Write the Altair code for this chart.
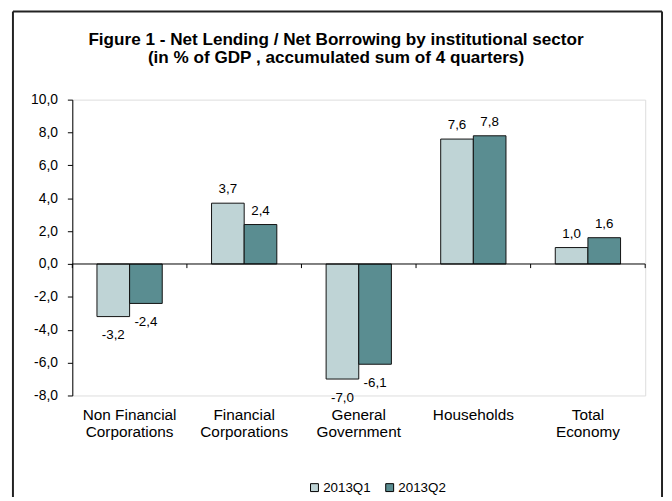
import altair as alt
import pandas as pd

sectors = ["Non Financial\nCorporations", "Financial\nCorporations", "General\nGovernment", "Households", "Total\nEconomy"]
quarters = ["2013Q1", "2013Q2"]
q1 = [-3.2, 3.7, -7.0, 7.6, 1.0]
q2 = [-2.4, 2.4, -6.1, 7.8, 1.6]
y_ticks = [-8, -6, -4, -2, 0, 2, 4, 6, 8, 10]
colors = ["#BFD4D6", "#5A8D91"]
title_lines = ["Figure 1 - Net Lending / Net Borrowing by institutional sector",
               "(in % of GDP , accumulated sum of 4 quarters)"]

rows = []
for s, a, b in zip(sectors, q1, q2):
    rows.append({"sector": s, "quarter": quarters[0], "value": a})
    rows.append({"sector": s, "quarter": quarters[1], "value": b})
df = pd.DataFrame(rows)

W, H = 579, 299
FONT = "Liberation Sans"
fmt = "(datum.value < 0 ? '-' : '') + replace(format(abs(datum.value), '.1f'), '.', ',')"

x_axis = alt.Axis(title=None, labelAngle=0, domain=False, ticks=False, tickSize=0,
                  labelPadding=12, labelExpr="split(datum.label, '\\n')",
                  labelFontSize=15.5, labelLineHeight=17, labelColor="#000",
                  labelFont=FONT, labelBaseline="top")
x_scale = alt.Scale(paddingInner=0, paddingOuter=0)
y_axis = alt.Axis(title=None, values=y_ticks, labelExpr=fmt, grid=False, tickSize=5,
                  labelPadding=10, domainColor="#000", tickColor="#000",
                  labelFontSize=14, labelColor="#000", labelFont=FONT)
y_scale = alt.Scale(domain=[-8, 10], nice=False, zero=False)

X = alt.X("sector:N", sort=sectors, scale=x_scale, axis=x_axis)
XO = alt.XOffset("quarter:N", sort=quarters, scale=alt.Scale(paddingInner=0, paddingOuter=0.755))
Y = alt.Y("value:Q", scale=y_scale, axis=y_axis)

base = alt.Chart(df)

bars = base.mark_bar(stroke="#111", strokeWidth=1).encode(
    x=X, xOffset=XO, y=Y,
    color=alt.Color("quarter:N", scale=alt.Scale(domain=quarters, range=colors),
                    legend=alt.Legend(title=None, orient="none", legendX=238, legendY=385,
                                      direction="horizontal", symbolType="square",
                                      symbolSize=64, symbolStrokeColor="#000",
                                      symbolStrokeWidth=1, symbolOpacity=1,
                                      labelFontSize=13.5, labelFont=FONT, labelColor="#000",
                                      columnPadding=12, labelOffset=2)),
)

pos_labels = base.transform_filter("datum.value >= 0").transform_calculate(
    label=fmt).mark_text(baseline="middle", dy=-14, fontSize=13.5, font=FONT, color="#000").encode(
    x=X, xOffset=XO, y=Y, text="label:N")
neg_labels = base.transform_filter("datum.value < 0").transform_calculate(
    label=fmt).mark_text(baseline="middle", dy=19, fontSize=13.5, font=FONT, color="#000").encode(
    x=X, xOffset=XO, y=Y, text="label:N")

one = pd.DataFrame({"z": [0]})
zero_line = alt.Chart(one).mark_rule(color="#000", strokeWidth=1).encode(
    y=alt.Y("z:Q", scale=y_scale, axis=y_axis), x=alt.value(0), x2=alt.value(W))

tick_df = pd.DataFrame({"sector": sectors, "value": [0] * len(sectors)})
ticks_start = alt.Chart(tick_df).mark_rule(color="#000", strokeWidth=1).encode(
    x=alt.X("sector:N", sort=sectors, scale=x_scale, axis=x_axis, bandPosition=0),
    y=alt.Y("value:Q", scale=y_scale, axis=y_axis), y2=alt.datum(-0.25))
ticks_end = alt.Chart(tick_df.tail(1)).mark_rule(color="#000", strokeWidth=1).encode(
    x=alt.X("sector:N", sort=sectors, scale=x_scale, axis=x_axis, bandPosition=1),
    y=alt.Y("value:Q", scale=y_scale, axis=y_axis), y2=alt.datum(-0.25))

frame_left = alt.Chart(one).mark_rule(color="#222", strokeWidth=2).encode(
    x=alt.value(-60), y=alt.value(-89), y2=alt.value(405))
frame_top = alt.Chart(one).mark_rule(color="#222", strokeWidth=2).encode(
    x=alt.value(-60), x2=alt.value(596), y=alt.value(-89))
frame_right = alt.Chart(one).mark_rule(color="#222", strokeWidth=2).encode(
    x=alt.value(596), y=alt.value(-89), y2=alt.value(405))

chart = alt.layer(
    bars, zero_line, ticks_start, ticks_end, pos_labels, neg_labels,
    frame_left, frame_top, frame_right
).properties(
    width=W, height=H,
    padding={"left": 65, "top": 90, "right": 19, "bottom": 100},
    autosize=alt.AutoSizeParams(type="none"),
    title=alt.TitleParams(text=title_lines, fontSize=17.3, fontWeight="bold", font=FONT,
                          anchor="middle", dx=-23, offset=-56, lineHeight=18, color="#000"),
).configure_view(stroke=None).configure(font=FONT)

chart.save("out.html", embed_options={"renderer": "svg", "actions": False})
